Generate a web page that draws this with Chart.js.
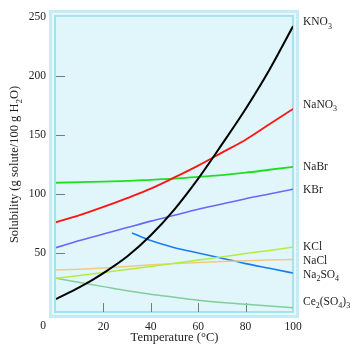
<!DOCTYPE html>
<html>
<head>
<meta charset="utf-8">
<script src="https://cdn.jsdelivr.net/npm/chart.js@4/dist/chart.umd.min.js"></script>
<style>
html,body{margin:0;padding:0;background:#fff;}
canvas{display:block;}
</style>
</head>
<body>
<canvas id="c" width="352" height="347"></canvas>
<script>
// ---- data ----
const temps = [0, 10, 20, 30, 40, 50, 60, 70, 80, 90, 100];
const tempsNa2SO4 = [32, 40, 50, 60, 70, 80, 90, 100];
const KNO3   = [11, 21, 33, 47, 65, 87, 113, 142, 172, 205, 242];
const NaNO3  = [76, 82, 89, 96.5, 104.5, 114, 124, 135, 146, 159, 172];
const NaBr   = [109.5, 110, 110.5, 111, 112, 113, 114.5, 116, 118, 120.5, 123];
const KBr    = [54.5, 60.5, 66, 71.5, 77, 82, 87, 91.5, 96, 100, 104];
const Na2SO4 = [67, 60.5, 54.5, 50, 45.5, 41, 37, 33];
const KCl    = [28.5, 31, 33.5, 36, 38.5, 41.2, 44, 46.7, 49.5, 52.2, 55];
const NaCl   = [35.5, 36.2, 37.2, 38.5, 40, 41, 42, 42.8, 43.5, 44, 44.5];
const Ce2SO43 = [28.5, 25, 21.5, 18, 15, 12.5, 10, 8, 6.5, 5, 3.5];
const seriesNames = ["KNO_3", "NaNO_3", "NaBr", "KBr", "KCl", "NaCl", "Na_2SO_4", "Ce_2(SO_4)_3"];
const xTicks = [0, 20, 40, 60, 80, 100];
const yTicks = [0, 50, 100, 150, 200, 250];
const xTitle = "Temperature (°C)";
const yTitle = "Solubility (g solute/100 g H_2O)";

// ---- styles ----
const seriesData = [
  {name: seriesNames[0], x: temps, y: KNO3, color: "#000000", w: 2, dy: -5},
  {name: seriesNames[1], x: temps, y: NaNO3, color: "#ff1414", w: 1.8, dy: -5},
  {name: seriesNames[2], x: temps, y: NaBr, color: "#1ee01e", w: 1.8, dy: -1},
  {name: seriesNames[3], x: temps, y: KBr, color: "#6868f8", w: 1.6, dy: 0},
  {name: seriesNames[4], x: temps, y: KCl, color: "#b4ee3c", w: 1.5, dy: -1},
  {name: seriesNames[5], x: temps, y: NaCl, color: "#f4c882", w: 1.5, dy: 1},
  {name: seriesNames[6], x: tempsNa2SO4, y: Na2SO4, color: "#1a7cf4", w: 1.6, dy: 1},
  {name: seriesNames[7], x: temps, y: Ce2SO43, color: "#84cc9c", w: 1.5, dy: -7}
];

const FONT = "'Liberation Serif', 'DejaVu Serif', serif";

function drawRich(ctx, str, x, y, size, align) {
  const segs = [];
  for (let i = 0; i < str.length; i++) {
    if (str[i] === '_' && i + 1 < str.length) { segs.push([str[i+1], true]); i++; }
    else {
      if (segs.length && !segs[segs.length-1][1]) segs[segs.length-1][0] += str[i];
      else segs.push([str[i], false]);
    }
  }
  const subSize = Math.round(size * 0.72);
  let total = 0;
  segs.forEach(s => { ctx.font = (s[1] ? subSize : size) + "px " + FONT; total += ctx.measureText(s[0]).width; });
  let cx = align === 'center' ? x - total / 2 : x;
  ctx.textBaseline = 'alphabetic';
  ctx.textAlign = 'left';
  segs.forEach(s => {
    ctx.font = (s[1] ? subSize : size) + "px " + FONT;
    ctx.fillText(s[0], cx, y + (s[1] ? size * 0.28 : 0));
    cx += ctx.measureText(s[0]).width;
  });
}

const decor = {
  id: 'decor',
  beforeDraw(chart) {
    const {ctx, chartArea: a} = chart;
    ctx.save();
    ctx.fillStyle = "#c4ecf4";
    ctx.fillRect(a.left - 7, a.top - 7, a.right - a.left + 13, a.bottom - a.top + 13);
    ctx.fillStyle = "#e8f8fb";
    ctx.fillRect(a.left - 4, a.top - 4, a.right - a.left + 7, a.bottom - a.top + 7);
    ctx.fillStyle = "#a6e2ee";
    ctx.fillRect(a.left - 2, a.top - 2, a.right - a.left + 3, a.bottom - a.top + 3);
    ctx.fillStyle = "#e0f6fa";
    ctx.fillRect(a.left, a.top, a.right - a.left - 1, a.bottom - a.top - 1);
    ctx.restore();
  },
  beforeDatasetsDraw(chart) {
    const {ctx, chartArea: a, scales: {x, y}} = chart;
    ctx.save();
    ctx.strokeStyle = "#7a7a7a";
    ctx.lineWidth = 1;
    xTicks.forEach(v => {
      if (v === 0 || v === 100) return;
      const px = Math.round(x.getPixelForValue(v)) + 0.5;
      ctx.beginPath(); ctx.moveTo(px, a.bottom); ctx.lineTo(px, a.bottom - 9); ctx.stroke();
    });
    yTicks.forEach(v => {
      if (v === 0 || v === 250) return;
      const py = Math.round(y.getPixelForValue(v)) + 0.5;
      ctx.beginPath(); ctx.moveTo(a.left, py); ctx.lineTo(a.left + 9, py); ctx.stroke();
    });
    ctx.restore();
  },
  afterDraw(chart) {
    const {ctx, chartArea: a, scales: {x, y}} = chart;
    ctx.save();
    ctx.fillStyle = "#222";
    ctx.font = "11.5px " + FONT;
    ctx.textAlign = 'center';
    ctx.textBaseline = 'middle';
    ctx.fillText("0", x.getPixelForValue(0) - 13, 326);
    ctx.font = "12.5px " + FONT;
    ctx.fillText(xTitle, (a.left + a.right) / 2, 338);
    ctx.translate(18, (a.top + a.bottom) / 2);
    ctx.rotate(-Math.PI / 2);
    drawRich(ctx, yTitle, 0, 0, 12.5, 'center');
    ctx.restore();
    ctx.save();
    ctx.fillStyle = "#222";
    seriesData.forEach(s => {
      const last = s.y[s.y.length - 1];
      const py = y.getPixelForValue(last) + s.dy + 4;
      drawRich(ctx, s.name, a.right + 10, py, 11.5, 'left');
    });
    ctx.restore();
  }
};

const datasets = seriesData.map(s => ({
  label: s.name,
  data: s.x.map((t, i) => ({x: t, y: s.y[i]})),
  borderColor: s.color,
  borderWidth: s.w,
  pointRadius: 0,
  fill: false,
  cubicInterpolationMode: 'monotone'
}));

new Chart(document.getElementById('c'), {
  type: 'line',
  data: {datasets},
  options: {
    responsive: false,
    devicePixelRatio: 1,
    animation: false,
    layout: {padding: {left: 0, right: 59, top: 15, bottom: 0}},
    plugins: {legend: {display: false}, tooltip: {enabled: false}},
    scales: {
      x: {
        type: 'linear', min: 0, max: 100,
        afterBuildTicks: sc => { sc.ticks = xTicks.map(v => ({value: v})); },
        afterFit: sc => { sc.height = 35; },
        grid: {display: false, drawTicks: false},
        border: {display: false},
        ticks: {
          padding: 8, color: "#222", font: {family: FONT, size: 11.5},
          maxRotation: 0,
          callback: v => v === 0 ? '' : String(v)
        }
      },
      y: {
        type: 'linear', min: 0, max: 250,
        afterBuildTicks: sc => { sc.ticks = yTicks.map(v => ({value: v})); },
        afterFit: sc => { sc.width = 56; },
        grid: {display: false, drawTicks: false},
        border: {display: false},
        ticks: {
          padding: 10, color: "#222", font: {family: FONT, size: 11.5},
          callback: v => v === 0 ? '' : String(v)
        }
      }
    }
  },
  plugins: [decor]
});
</script>
</body>
</html>
